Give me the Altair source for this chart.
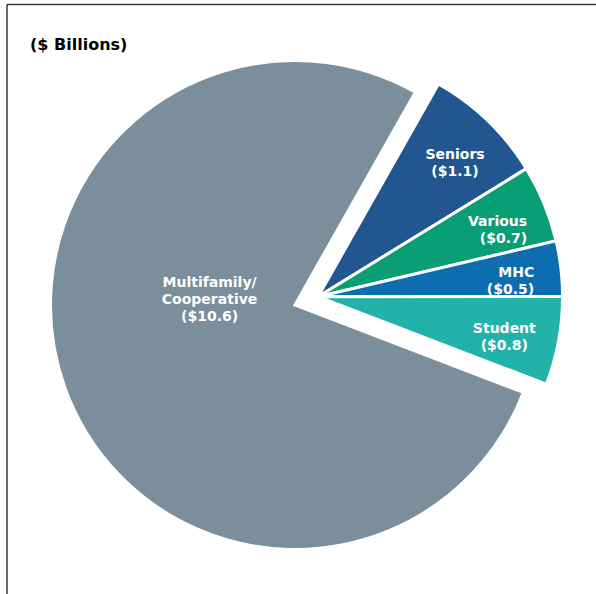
import math
import altair as alt
import pandas as pd

# ---- data (clockwise order starting near 30 degrees from 12 o'clock) ----
categories = ["Seniors", "Various", "MHC", "Student", "Multifamily/Cooperative"]
values = [1.1, 0.7, 0.5, 0.8, 10.6]
labels = ["Seniors\n($1.1)", "Various\n($0.7)", "MHC\n($0.5)", "Student\n($0.8)",
          "Multifamily/\nCooperative\n($10.6)"]
title_text = ["($ Billions)"]

# ---- style / layout ----
colors = ["#215690", "#0a9e74", "#0c6db0", "#22b2aa", "#7a8e9b"]
right_aligned = ["Various", "MHC"]
W, H = 596, 594
CX, CY = 295, 305
R = 244.5
EXPLODE = 24.5
START = math.radians(29.5)
FS = 14
LH = 17
MAIN = "Multifamily/Cooperative"

df = pd.DataFrame({"cat": categories, "value": values, "label": labels,
                   "idx": list(range(len(categories)))})

ra_expr = " || ".join(f"datum.cat == '{c}'" for c in right_aligned)

base = (
    alt.Chart(df)
    .transform_joinaggregate(total="sum(value)")
    .transform_window(cum="sum(value)", sort=[alt.SortField("idx")], frame=[None, 0])
    .transform_calculate(small=f"datum.cat == '{MAIN}' ? 0 : datum.value")
    .transform_joinaggregate(small_total="sum(small)")
    .transform_calculate(
        a_start=f"{START} + 2*PI*(datum.cum - datum.value)/datum.total",
        a_end=f"{START} + 2*PI*datum.cum/datum.total",
        nlines="length(split(datum.label, '\\n'))",
        maxlen="max(length(split(datum.label, '\\n')[0]), length(split(datum.label, '\\n')[1]))",
        ra=f"({ra_expr}) ? 1 : 0",
    )
    .transform_calculate(
        a_mid="(datum.a_start + datum.a_end)/2",
        g_mid=f"{START} + PI*datum.small_total/datum.total",
        ex=f"datum.small > 0 ? {EXPLODE} : 0",
    )
    .transform_calculate(
        px=f"{CX} + datum.ex*sin(datum.g_mid)",
        py=f"{CY} - datum.ex*cos(datum.g_mid)",
        lr=f"datum.small > 0 ? {0.78 * R} : {0.35 * R}",
        la="datum.small > 0 ? datum.a_mid + 0.034 : datum.a_mid + 0.403",
    )
    .transform_calculate(
        lx="datum.px + datum.lr*sin(datum.la)",
        ly=f"datum.py - datum.lr*cos(datum.la) - (datum.nlines - 1)*{LH}/2",
    )
    .transform_calculate(
        lx_right=f"datum.lx + datum.maxlen*{0.31 * FS}",
    )
)

arcs = base.mark_arc(stroke="white", strokeWidth=3, radius=R).encode(
    theta=alt.Theta("value:Q", stack=True,
                    scale=alt.Scale(range=[START, START + 2 * math.pi])),
    order=alt.Order("idx:Q"),
    color=alt.Color("cat:N", scale=alt.Scale(domain=categories, range=colors), legend=None),
    x=alt.X("px:Q", scale=None),
    y=alt.Y("py:Q", scale=None),
)

text_style = dict(lineBreak="\n", font="DejaVu Sans", fontWeight="bold", fontSize=FS,
                  color="white", lineHeight=LH, baseline="middle")

texts_c = base.transform_filter("datum.ra == 0").mark_text(align="center", **text_style).encode(
    x=alt.X("lx:Q", scale=None),
    y=alt.Y("ly:Q", scale=None),
    text="label:N",
)
texts_r = base.transform_filter("datum.ra == 1").mark_text(align="right", **text_style).encode(
    x=alt.X("lx_right:Q", scale=None),
    y=alt.Y("ly:Q", scale=None),
    text="label:N",
)

title = alt.Chart(pd.DataFrame({"t": title_text})).mark_text(
    font="DejaVu Sans", fontWeight="bold", fontSize=16, color="black",
    align="left", baseline="middle",
).encode(x=alt.value(30), y=alt.value(45), text="t:N")

top_rule = alt.Chart(pd.DataFrame({"a": [0]})).mark_rule(color="#3a3a3a", strokeWidth=1.5).encode(
    x=alt.value(7), x2=alt.value(W + 10), y=alt.value(4.5))
left_rule = alt.Chart(pd.DataFrame({"a": [0]})).mark_rule(color="#3a3a3a", strokeWidth=1.5).encode(
    x=alt.value(7), y=alt.value(4.5), y2=alt.value(H + 10))

chart = (
    alt.layer(arcs, texts_c, texts_r, title, top_rule, left_rule)
    .properties(width=W, height=H, autosize="none", padding=0)
    .configure_view(stroke=None)
)

chart.save("out.html", embed_options={"renderer": "svg", "actions": False})
